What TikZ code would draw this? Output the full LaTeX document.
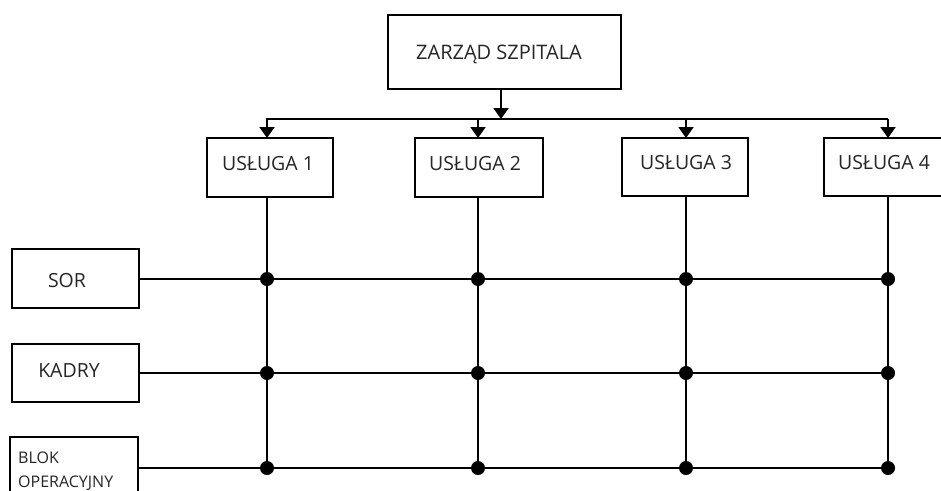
\documentclass[tikz,border=0pt]{standalone}
\usepackage{fontspec}
\setmainfont{Open Sans}
\usetikzlibrary{arrows.meta}
\begin{document}
\begin{tikzpicture}[x=1pt,y=-1pt,
  box/.style={draw=black,line width=2pt,fill=white},
  lbl/.style={inner sep=0pt,anchor=base,text=black!85},
  wire/.style={draw=black,line width=2pt},
  arr/.style={wire,-{Triangle[width=15pt,length=11pt]}},
  dot/.style={circle,fill=black,inner sep=0pt,minimum size=14pt}]
\clip (0,0) rectangle (941,490);
\fill[white] (0,0) rectangle (941,490);
% boxes
\path[box] (388,15) rectangle (621,89);
\coordinate (zb) at (501,89);
\node[lbl,font=\fontsize{20}{24}\selectfont] (zt) at (499,59) {ZARZĄD SZPITALA};
\path[box] (207,138) rectangle (333,197);
\path[box] (415,138) rectangle (543,197);
\path[box] (622,138) rectangle (748,196);
\path[box] (824,138) rectangle (942,196);
\node[lbl,font=\fontsize{19.5}{24}\selectfont] (u1) at (268,170) {USŁUGA 1};
\node[lbl,font=\fontsize{19.5}{24}\selectfont] (u2) at (475,170) {USŁUGA 2};
\node[lbl,font=\fontsize{19.5}{24}\selectfont] (u3) at (686,169) {USŁUGA 3};
\node[lbl,font=\fontsize{19.5}{24}\selectfont] (u4) at (884,169) {USŁUGA 4};
\path[box] (12,249) rectangle (139,308);
\path[box] (12,344) rectangle (139,402);
\path[box] (10,437) rectangle (138,500);
\node[lbl,font=\fontsize{19.5}{24}\selectfont] (s) at (67,287) {SOR};
\node[lbl,font=\fontsize{19.5}{24}\selectfont] (k) at (69,377) {KADRY};
\node[lbl,anchor=base west,font=\fontsize{16}{24}\selectfont] (b1) at (18,463) {BLOK};
\node[lbl,anchor=base west,font=\fontsize{16}{24}\selectfont] (b2) at (18,487) {OPERACYJNY};
% bus
\coordinate (busL) at (266,119);
\coordinate (busR) at (888,119);
\coordinate (busM) at (501,119);
\draw[wire] (busL) -- (busR);
\draw[arr] (zb) -- (busM);
\foreach \x/\n in {267/1,478/2,686/3,888/4}{
  \coordinate (t\n) at (\x,119);
  \coordinate (top\n) at (\x,138);
  \coordinate (bot\n) at (\x,197);
  \coordinate (end\n) at (\x,468);
  \draw[arr] (t\n) -- (top\n);
  \draw[wire] (bot\n) -- (end\n);
}
% rows
\foreach \y/\n/\xl in {279/1/139,373/2/139,468/3/138}{
  \coordinate (rl\n) at (\xl,\y);
  \coordinate (rr\n) at (888,\y);
  \draw[wire] (rl\n) -- (rr\n);
  \foreach \x/\m in {267/1,478/2,686/3,888/4}{
    \node[dot] (d\n\m) at (\x,\y) {};
  }
}
\end{tikzpicture}
\end{document}
